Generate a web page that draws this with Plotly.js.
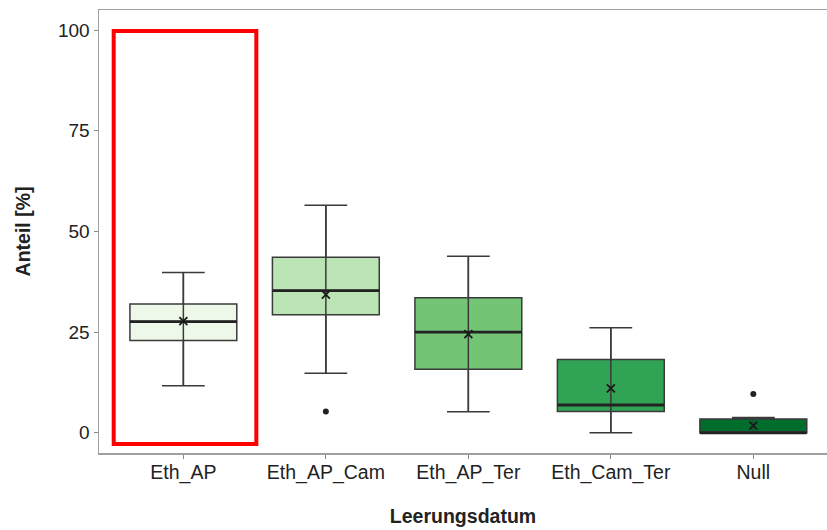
<!DOCTYPE html>
<html>
<head>
<meta charset="utf-8">
<script src="https://cdn.plot.ly/plotly-3.0.1.min.js"></script>
<style>html,body{margin:0;padding:0;background:#fff;}#chart{width:827px;height:530px;}</style>
</head>
<body>
<div id="chart"></div>
<script>
const categories = ["Eth_AP", "Eth_AP_Cam", "Eth_AP_Ter", "Eth_Cam_Ter", "Null"];
const lowerWhisker = [11.7, 14.8, 5.2, 0, 0];
const q1Values = [22.9, 29.3, 15.8, 5.3, 0];
const medianValues = [27.6, 35.3, 25.0, 6.9, 0];
const q3Values = [32.0, 43.6, 33.5, 18.2, 3.4];
const upperWhisker = [39.8, 56.5, 43.8, 26.1, 3.8];
const meanValues = [27.7, 34.3, 24.5, 11.0, 1.8];
const outlierCategory = ["Eth_AP_Cam", "Null"];
const outlierValues = [5.3, 9.6];
const fillColors = ["#edf8e9", "#bae4b3", "#74c476", "#31a354", "#006d2c"];
const yTicks = [0, 25, 50, 75, 100];

const lineCol = "#3a3a3a";
const boxWidth = 0.75;
const traces = [];
categories.forEach((c, i) => {
  traces.push({
    type: "box", x: [i], q1: [q1Values[i]], median: [medianValues[i]], q3: [q3Values[i]],
    lowerfence: [lowerWhisker[i]], upperfence: [upperWhisker[i]],
    width: boxWidth, whiskerwidth: 0.4, fillcolor: fillColors[i],
    line: {color: lineCol, width: 1.5}, boxpoints: false, showlegend: false, hoverinfo: "skip"
  });
});
// whisker line through box
const wx = [], wy = [];
categories.forEach((c, i) => { wx.push(i, i, null); wy.push(lowerWhisker[i], upperWhisker[i], null); });
traces.push({type: "scatter", mode: "lines", x: wx, y: wy, line: {color: lineCol, width: 1.5}, showlegend: false, hoverinfo: "skip"});
// thicker median
const mx = [], my = [];
categories.forEach((c, i) => { mx.push(i - boxWidth / 2, i + boxWidth / 2, null); my.push(medianValues[i], medianValues[i], null); });
traces.push({type: "scatter", mode: "lines", x: mx, y: my, line: {color: "#222", width: 2.8}, showlegend: false, hoverinfo: "skip"});
// mean markers
traces.push({type: "scatter", mode: "markers", x: categories.map((c, i) => i), y: meanValues,
  marker: {symbol: "x-thin-open", size: 8, color: "#1a1a1a", line: {color: "#1a1a1a", width: 1.8}}, showlegend: false});
// outliers
traces.push({type: "scatter", mode: "markers", x: outlierCategory.map(c => categories.indexOf(c)), y: outlierValues,
  marker: {symbol: "circle", size: 6, color: "#222"}, showlegend: false});

const layout = {
  width: 827, height: 530,
  margin: {l: 99, r: 0, t: 10, b: 77},
  paper_bgcolor: "#fff", plot_bgcolor: "#fff",
  font: {family: "Liberation Sans, Arial, sans-serif", size: 19, color: "#222"},
  xaxis: {
    range: [-0.592, 4.517], tickvals: categories.map((c, i) => i), ticktext: categories,
    showgrid: false, zeroline: false, showline: true, mirror: true, linecolor: "#a0a0a0", linewidth: 1.5,
    ticks: "outside", ticklen: 4, tickcolor: "#888", tickwidth: 1,
    tickfont: {size: 19.5, color: "#222"}, ticklabelstandoff: -3,
    title: {text: "<b>Leerungsdatum</b>", font: {size: 19.5, color: "#222"}, standoff: 26}
  },
  yaxis: {
    range: [-5.02, 104.97], tickvals: yTicks,
    showgrid: false, zeroline: false, showline: true, linecolor: "#a0a0a0", linewidth: 1.5,
    ticks: "outside", ticklen: 4, tickcolor: "#888", tickwidth: 1,
    tickfont: {size: 19, color: "#222"},
    title: {text: "<b>Anteil [%]</b>", font: {size: 19.5, color: "#222"}, standoff: 22}
  },
  shapes: [{type: "rect", xref: "paper", yref: "paper", x0: 0.0202, x1: 0.2161, y0: 0.0203, y1: 0.9526,
    line: {color: "#ff0000", width: 4}, fillcolor: "rgba(0,0,0,0)"}]
};
Plotly.newPlot("chart", traces, layout, {displayModeBar: false, staticPlot: true});
</script>
</body>
</html>
